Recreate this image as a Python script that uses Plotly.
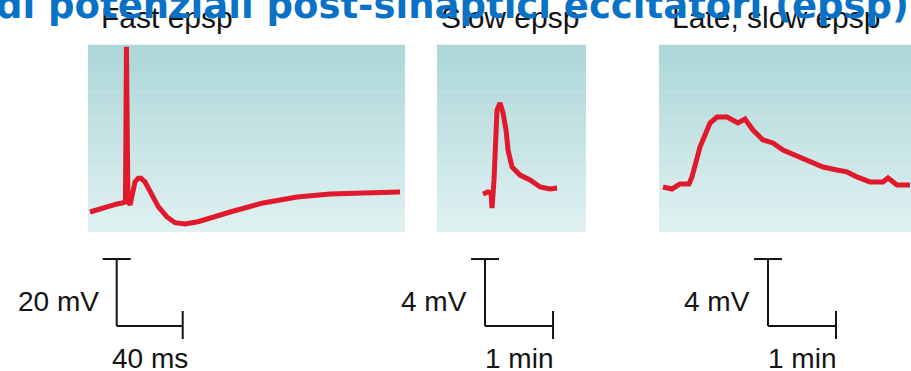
import plotly.graph_objects as go

W, H = 911, 371

# ---------------- data (relative membrane potential, mV) ----------------
fast_t_ms = [1.2, 10.3, 17.6, 20.6, 22.7, 23.3, 24.2, 25.5, 26.7, 28.5, 30.5, 32.1, 34.5,
             38.6, 42.6, 47.7, 52.7, 58.8, 66.7, 86.1, 106.1, 126.7, 146.7, 166.7, 189.1]
fast_mv = [0.0, 1.5, 2.4, 2.7, 3.0, 49.3, 3.6, 2.1, 5.7, 9.0, 10.1, 10.1, 9.0,
           5.6, 1.6, -1.4, -3.2, -3.6, -2.9, 0.0, 2.7, 4.5, 5.4, 5.7, 6.0]

slow_t_min = [0.676, 0.750, 0.794, 0.809, 0.838, 0.853, 0.882, 0.926, 0.971, 1.015,
              1.044, 1.103, 1.221, 1.368, 1.515, 1.662, 1.765]
slow_mv = [-0.06, 0.06, 0.0, -0.90, 0.78, 3.16, 4.96, 5.37, 4.78, 3.76,
           2.57, 1.55, 1.07, 0.78, 0.36, 0.24, 0.30]

late_t_min = [0.059, 0.191, 0.309, 0.441, 0.485, 0.603, 0.750, 0.853, 1.000, 1.162,
              1.265, 1.382, 1.529, 1.676, 1.824, 2.029, 2.176, 2.265, 2.412, 2.618,
              2.765, 2.912, 3.103, 3.294, 3.368, 3.500, 3.691]
late_mv = [0.0, -0.12, 0.18, 0.18, 0.60, 2.39, 3.82, 4.18, 4.18, 3.82,
           4.06, 3.40, 2.81, 2.63, 2.21, 1.85, 1.61, 1.49, 1.19, 1.01,
           0.90, 0.60, 0.30, 0.30, 0.54, 0.12, 0.12]

titles = ["Fast epsp", "Slow epsp", "Late, slow epsp"]
scale_mv = [20, 4, 4]
scale_t = [40, 1, 1]
scale_mv_labels = ["20 mV", "4 mV", "4 mV"]
scale_t_labels = ["40 ms", "1 min", "1 min"]
main_title = "di potenziali post-sinaptici eccitatori (epsp)"

# ---------------- layout geometry (pixels) ----------------
panels_px = [(88, 405), (437, 586), (659, 911)]
panel_top, panel_bot = 45, 232
x_ranges = [[0, 192.1], [0, 2.19], [0, 3.706]]
y_ranges = [[-5.97, 49.85], [-2.33, 8.84], [-2.69, 8.48]]
bar_x_px = [116.7, 485, 768]
bar_y_px = 326
title_x_px = [167, 510, 776]

def px(xp):
    return xp / W

def py(yp):
    return 1 - yp / H

RED = "#E1192C"
INK = "#141414"

fig = go.Figure()
series = [(fast_t_ms, fast_mv), (slow_t_min, slow_mv), (late_t_min, late_mv)]
shapes = []
annotations = []

top_rgb = (171, 214, 216)
bot_rgb = (224, 241, 241)
N = 40

for i, ((xs, ys), (l, r)) in enumerate(zip(series, panels_px)):
    sfx = "" if i == 0 else str(i + 1)
    fig.add_trace(go.Scatter(x=xs, y=ys, mode="lines",
                             line=dict(color=RED, width=5),
                             xaxis="x" + sfx, yaxis="y" + sfx,
                             hoverinfo="skip", showlegend=False))
    fig.update_layout(**{
        "xaxis" + sfx: dict(domain=[px(l), px(r)], range=x_ranges[i], visible=False,
                            anchor="y" + sfx, fixedrange=True),
        "yaxis" + sfx: dict(domain=[py(panel_bot), py(panel_top)], range=y_ranges[i],
                            visible=False, anchor="x" + sfx, fixedrange=True),
    })
    # vertical gradient background
    for k in range(N):
        f = (k + 0.5) / N  # 0 bottom -> 1 top
        c = tuple(round(b + (t - b) * f) for t, b in zip(top_rgb, bot_rgb))
        shapes.append(dict(type="rect", xref="x" + sfx + " domain", yref="y" + sfx + " domain",
                           x0=0, x1=1, y0=k / N, y1=(k + 1) / N + 0.002,
                           fillcolor="rgb(%d,%d,%d)" % c, line=dict(width=0), layer="below"))

    # scale bars derived from the axis scales
    px_per_t = (r - l) / (x_ranges[i][1] - x_ranges[i][0])
    px_per_mv = (panel_bot - panel_top) / (y_ranges[i][1] - y_ranges[i][0])
    bx = bar_x_px[i]
    vlen = scale_mv[i] * px_per_mv
    hlen = scale_t[i] * px_per_t
    top_y = bar_y_px - vlen
    end_x = bx + hlen
    lw = dict(color=INK, width=2)
    shapes += [
        dict(type="line", xref="paper", yref="paper", x0=px(bx), x1=px(bx),
             y0=py(top_y), y1=py(bar_y_px), line=lw),
        dict(type="line", xref="paper", yref="paper", x0=px(bx - 14), x1=px(bx + 14),
             y0=py(top_y), y1=py(top_y), line=lw),
        dict(type="line", xref="paper", yref="paper", x0=px(bx), x1=px(end_x),
             y0=py(bar_y_px), y1=py(bar_y_px), line=lw),
        dict(type="line", xref="paper", yref="paper", x0=px(end_x), x1=px(end_x),
             y0=py(bar_y_px - 15), y1=py(bar_y_px + 13), line=lw),
    ]
    annotations.append(dict(text=scale_mv_labels[i], xref="paper", yref="paper",
                            x=px(bx - 16), y=py(301), xanchor="right", yanchor="middle",
                            showarrow=False, font=dict(family="Liberation Sans", size=28, color=INK)))
    annotations.append(dict(text=scale_t_labels[i], xref="paper", yref="paper",
                            x=px(bx + hlen / 2), y=py(358), xanchor="center", yanchor="middle",
                            showarrow=False, font=dict(family="Liberation Sans", size=28, color=INK)))
    annotations.append(dict(text=titles[i], xref="paper", yref="paper",
                            x=px(title_x_px[i]), y=py(18), xanchor="center", yanchor="middle",
                            showarrow=False, font=dict(family="Liberation Sans", size=30, color=INK)))

annotations.append(dict(text="<b>" + main_title + "</b>", xref="paper", yref="paper",
                        x=px(452), y=py(6), xanchor="center", yanchor="middle",
                        showarrow=False,
                        font=dict(family="DejaVu Sans", size=37, color="#0A72C6")))

fig.update_layout(width=W, height=H, margin=dict(l=0, r=0, t=0, b=0),
                  paper_bgcolor="white", plot_bgcolor="rgba(0,0,0,0)",
                  shapes=shapes, annotations=annotations, showlegend=False)

fig.write_html("out.html", config={"displayModeBar": False},
               post_script="document.body.style.margin='0px';document.body.style.overflow='hidden';")
